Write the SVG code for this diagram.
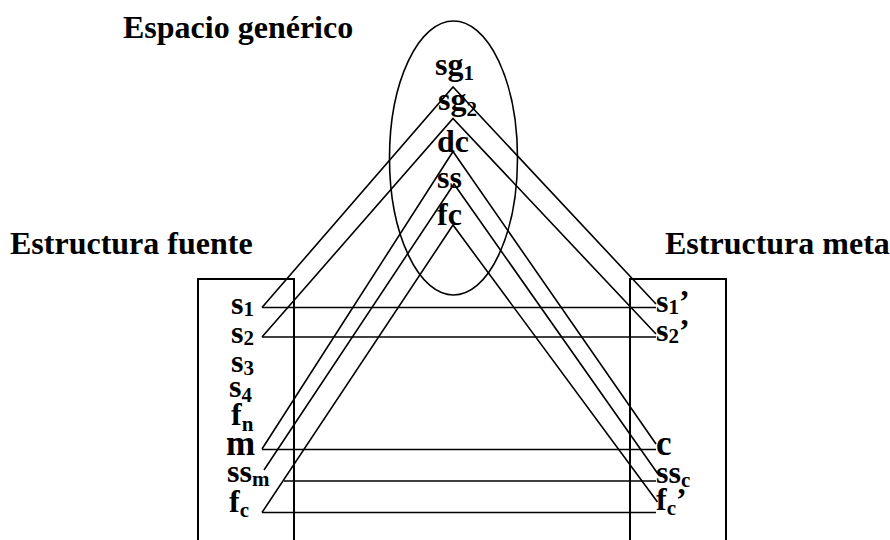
<svg xmlns="http://www.w3.org/2000/svg" width="890" height="540" viewBox="0 0 890 540">
<style>
text{font-family:"Liberation Serif","Times New Roman",serif;font-weight:bold;fill:#000}
.h{font-size:32px}
.n{font-size:32px}
.big{font-size:35px}
.sub{font-size:21px}
.c{stroke:#000;stroke-width:1.6;fill:none}
.b{stroke:#000;stroke-width:2;fill:none}
</style>
<rect width="890" height="540" fill="#fff"/>
<g id="generic-space">
<text class="h" x="123" y="38">Espacio genérico</text>
<ellipse cx="453.5" cy="158" rx="64" ry="137" class="c"/>
<text class="n" x="435" y="75">sg<tspan class="sub" dy="5">1</tspan></text>
<text class="n" x="438" y="110">sg<tspan class="sub" dy="6">2</tspan></text>
<text class="n" x="437" y="152">dc</text>
<text class="n" x="437" y="188">ss</text>
<text class="n" x="437" y="225">fc</text>
</g>
<g id="source-structure">
<text class="h" x="10" y="254">Estructura fuente</text>
<polyline points="198,541 198,279 294,279 294,541" class="b"/>
<text class="n" x="231" y="313.5">s<tspan class="sub" dy="2">1</tspan></text>
<text class="n" x="231" y="342.5">s<tspan class="sub" dy="2">2</tspan></text>
<text class="n" x="231" y="371.5">s<tspan class="sub" dy="3">3</tspan></text>
<text class="n" x="229" y="396.5">s<tspan class="sub" dy="5">4</tspan></text>
<text class="n" x="231" y="425">f<tspan class="sub" dy="6">n</tspan></text>
<text class="big" x="226" y="455">m</text>
<text class="n" x="227" y="481.5">ss<tspan class="sub" dy="4">m</tspan></text>
<text class="n" x="229" y="511.5">f<tspan class="sub" dy="5">c</tspan></text>
</g>
<g id="target-structure">
<text class="h" x="665" y="254">Estructura meta</text>
<polyline points="630,541 630,279 726,279 726,541" class="b"/>
<text class="n" x="656" y="311.5">s<tspan class="sub" dy="2">1</tspan><tspan dy="-2">’</tspan></text>
<text class="n" x="656" y="341">s<tspan class="sub" dy="2">2</tspan><tspan dy="-2">’</tspan></text>
<text class="big" x="656" y="455">c</text>
<text class="n" x="656" y="483">ss<tspan class="sub" dy="4">c</tspan></text>
<text class="n" x="656" y="510">f<tspan class="sub" dy="5">c</tspan><tspan dy="-5">’</tspan></text>
</g>
<g id="connectors" class="c">
<polyline points="262,307.5 453,87 656,304" class="c"/>
<polyline points="262,337 453,118.5 656,334" class="c"/>
<polyline points="262,449 453,151.5 656,444" class="c"/>
<polyline points="264,470 454,184 658,474" class="c"/>
<polyline points="262,512.5 453,225 657.5,502" class="c"/>
<line x1="262" y1="307.5" x2="656" y2="307.5" class="c"/>
<line x1="262" y1="337" x2="656" y2="337" class="c"/>
<line x1="262" y1="449.5" x2="656" y2="449.5" class="c"/>
<line x1="284" y1="481" x2="656" y2="481" class="c"/>
<line x1="262" y1="512.5" x2="656" y2="512.5" class="c"/>
</g>
</svg>
